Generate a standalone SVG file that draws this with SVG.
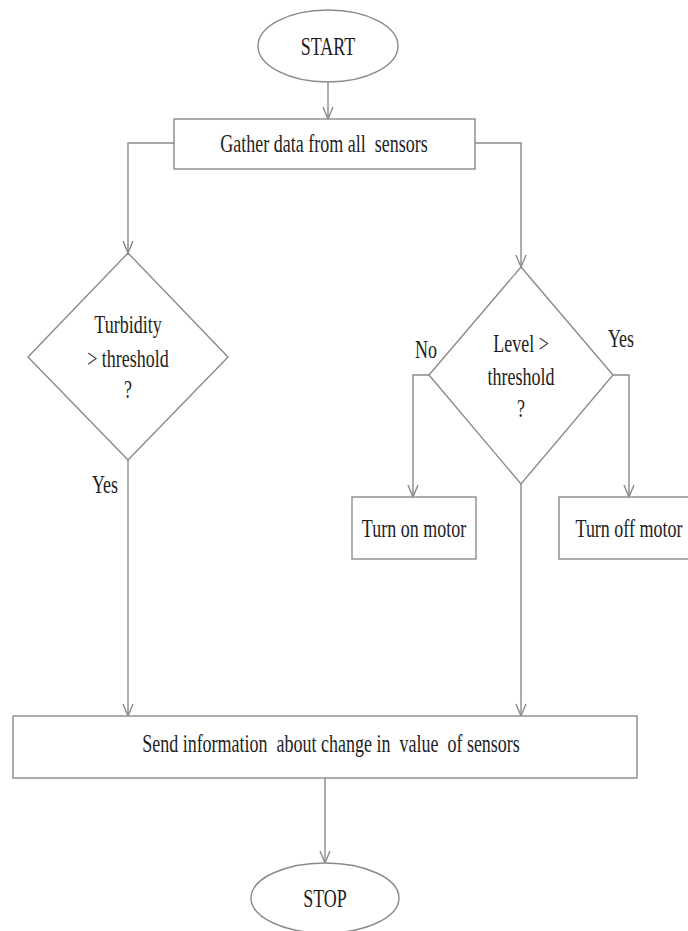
<svg xmlns="http://www.w3.org/2000/svg" width="688" height="931" viewBox="0 0 688 931">
<style>
.shape{fill:#fff;stroke:#8a8a8a;stroke-width:1.4}
.conn{fill:none;stroke:#8a8a8a;stroke-width:1.4}
.t{font-family:"Liberation Serif","Times New Roman",serif;font-size:18px;fill:#1e1e1e;text-anchor:middle;white-space:pre}
</style>
<defs>
<marker id="arr" markerUnits="userSpaceOnUse" markerWidth="14" markerHeight="12" viewBox="0 0 14 12" refX="13" refY="6" orient="auto">
<path d="M1,1 L13,6 L1,11" fill="none" stroke="#8a8a8a" stroke-width="1.4"/>
</marker>
</defs>
<rect width="688" height="931" fill="#fff"/>
<g id="connectors">
<path class="conn" d="M328,82 L328,119" marker-end="url(#arr)"/>
<path class="conn" d="M174,143 L128,143 L128,253" marker-end="url(#arr)"/>
<path class="conn" d="M475,143 L521,143 L521,267" marker-end="url(#arr)"/>
<path class="conn" d="M429,375 L413,375 L413,497" marker-end="url(#arr)"/>
<path class="conn" d="M613,375 L629,375 L629,497" marker-end="url(#arr)"/>
<path class="conn" d="M521,484 L521,716" marker-end="url(#arr)"/>
<path class="conn" d="M128,460 L128,716" marker-end="url(#arr)"/>
<path class="conn" d="M325,778 L325,863" marker-end="url(#arr)"/>
</g>
<g id="start">
<ellipse class="shape" cx="328" cy="46" rx="70" ry="36"/>
<text class="t" transform="translate(328,55) scale(1,1.45)">START</text>
</g>
<g id="gather">
<rect class="shape" x="174" y="119" width="301" height="50"/>
<text class="t" transform="translate(324,152) scale(1,1.45)">Gather data from all  sensors</text>
</g>
<g id="turbidity">
<polygon class="shape" points="128,253 228,357 128,460 28,357"/>
<text class="t" transform="translate(128,333) scale(1,1.45)">Turbidity</text>
<text class="t" transform="translate(128,367) scale(1,1.45)">&gt; threshold</text>
<text class="t" transform="translate(128,398) scale(1,1.45)">?</text>
</g>
<g id="level">
<polygon class="shape" points="521,267 613,375 521,484 429,375"/>
<text class="t" transform="translate(521,352) scale(1,1.45)">Level &gt;</text>
<text class="t" transform="translate(521,385) scale(1,1.45)">threshold</text>
<text class="t" transform="translate(521,417) scale(1,1.45)">?</text>
</g>
<g id="labels">
<text class="t" transform="translate(426,358) scale(1,1.45)">No</text>
<text class="t" transform="translate(621,347) scale(1,1.45)">Yes</text>
<text class="t" transform="translate(105,493) scale(1,1.45)">Yes</text>
</g>
<g id="turnon">
<rect class="shape" x="352" y="497" width="124" height="62"/>
<text class="t" transform="translate(414,537) scale(1,1.45)">Turn on motor</text>
</g>
<g id="turnoff">
<rect class="shape" x="559" y="497" width="140" height="62"/>
<text class="t" transform="translate(629,537) scale(1,1.45)">Turn off motor</text>
</g>
<g id="send">
<rect class="shape" x="13" y="716" width="624" height="62"/>
<text class="t" transform="translate(331,752) scale(1,1.45)">Send information  about change in  value  of sensors</text>
</g>
<g id="stop">
<ellipse class="shape" cx="325" cy="898" rx="74" ry="35"/>
<text class="t" transform="translate(325,907) scale(1,1.45)">STOP</text>
</g>
</svg>
